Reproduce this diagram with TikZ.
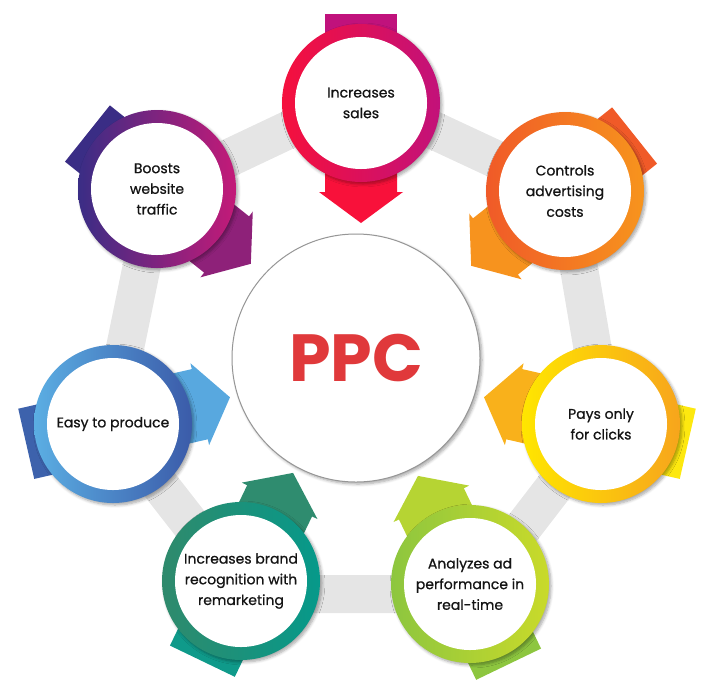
\documentclass[tikz,border=0pt]{standalone}
\usepackage{fontspec}
\setmainfont{Poppins}
\newfontfamily\labelfont{Poppins}[FakeBold=0.8]
\usetikzlibrary{shadows.blur}

\definecolor{bandgray}{RGB}{229,229,229}
\definecolor{textdark}{RGB}{20,20,20}
\definecolor{ppcred}{RGB}{224,57,59}
\definecolor{salesL}{RGB}{245,16,61}   \definecolor{salesR}{RGB}{194,17,122}
\definecolor{salesT}{RGB}{192,18,124}  \definecolor{salesH}{RGB}{248,17,58}
\definecolor{costsL}{RGB}{240,90,40}   \definecolor{costsR}{RGB}{247,148,29}
\definecolor{costsT}{RGB}{240,90,40}   \definecolor{costsH}{RGB}{247,147,30}
\definecolor{clicksL}{RGB}{255,230,0}  \definecolor{clicksR}{RGB}{247,165,28}
\definecolor{clicksT}{RGB}{253,232,15} \definecolor{clicksH}{RGB}{249,177,27}
\definecolor{realL}{RGB}{141,198,63}   \definecolor{realR}{RGB}{201,218,42}
\definecolor{realT}{RGB}{141,198,63}   \definecolor{realH}{RGB}{182,212,51}
\definecolor{brandL}{RGB}{47,138,108}  \definecolor{brandR}{RGB}{6,153,138}
\definecolor{brandT}{RGB}{15,154,138}  \definecolor{brandH}{RGB}{47,140,111}
\definecolor{prodL}{RGB}{91,174,227}   \definecolor{prodR}{RGB}{59,91,169}
\definecolor{prodT}{RGB}{61,98,172}    \definecolor{prodH}{RGB}{88,168,223}
\definecolor{trafL}{RGB}{58,45,133}    \definecolor{trafR}{RGB}{196,26,120}
\definecolor{trafT}{RGB}{58,45,133}    \definecolor{trafH}{RGB}{142,33,121}

\tikzset{every picture/.style={line width=0.75pt}}
\tikzset{
  band/.style={draw=bandgray, line width=28.5pt},
  softshadow/.style={blur shadow={shadow xshift=1.5pt, shadow yshift=-1.5pt, shadow blur steps=6, shadow opacity=35}},
  ring/.style={circle, inner sep=0pt, minimum size=118.5pt, align=center, text=textdark,
    font=\labelfont\fontsize{10.5}{15.5}\selectfont, softshadow,
    path picture={\fill[white] (path picture bounding box.center) circle [radius=49.5pt];}},
}

\begin{document}
\begin{tikzpicture}[x=0.75pt,y=0.75pt,yscale=-1,xscale=1]
	\useasboundingbox (0,0) rectangle (727,697);

	%Shape: Heptagon band
	\coordinate (v1) at (360,96);
	\coordinate (v2) at (566,192);
	\coordinate (v3) at (605,421);
	\coordinate (v4) at (472,594);
	\coordinate (v5) at (245,594);
	\coordinate (v6) at (110,421);
	\coordinate (v7) at (157,192);
	\draw [band] (v1) -- (v2) -- (v3) -- (v4) -- (v5) -- (v6) -- (v7) -- cycle ;

	%Shape: Arrow [sales]
	\fill [color=salesT, shift={(361,103)}, rotate=90] (-89,-36) -- (0,-36) -- (0,36) -- (-89,36) -- cycle ;
	\fill [color=salesH, shift={(361,103)}, rotate=90] (0,-36) -- (89,-36) -- (89,-42) -- (120,0) -- (89,42) -- (89,36) -- (0,36) -- cycle ;
	%Shape: Arrow [costs]
	\fill [color=costsT, shift={(565,191)}, rotate=141.43] (-89,-36) -- (0,-36) -- (0,36) -- (-89,36) -- cycle ;
	\fill [color=costsH, shift={(565,191)}, rotate=141.43] (0,-36) -- (89,-36) -- (89,-42) -- (120,0) -- (89,42) -- (89,36) -- (0,36) -- cycle ;
	%Shape: Arrow [clicks]
	\fill [color=clicksT, shift={(601,424)}, rotate=192.86] (-89,-36) -- (0,-36) -- (0,36) -- (-89,36) -- cycle ;
	\fill [color=clicksH, shift={(601,424)}, rotate=192.86] (0,-36) -- (89,-36) -- (89,-42) -- (120,0) -- (89,42) -- (89,36) -- (0,36) -- cycle ;
	%Shape: Arrow [realtime]
	\fill [color=realT, shift={(470,584)}, rotate=244.29] (-89,-36) -- (0,-36) -- (0,36) -- (-89,36) -- cycle ;
	\fill [color=realH, shift={(470,584)}, rotate=244.29] (0,-36) -- (89,-36) -- (89,-42) -- (120,0) -- (89,42) -- (89,36) -- (0,36) -- cycle ;
	%Shape: Arrow [brand]
	\fill [color=brandT, shift={(241,581)}, rotate=295.71] (-89,-36) -- (0,-36) -- (0,36) -- (-89,36) -- cycle ;
	\fill [color=brandH, shift={(241,581)}, rotate=295.71] (0,-36) -- (89,-36) -- (89,-42) -- (120,0) -- (89,42) -- (89,36) -- (0,36) -- cycle ;
	%Shape: Arrow [produce]
	\fill [color=prodT, shift={(113,424)}, rotate=347.14] (-89,-36) -- (0,-36) -- (0,36) -- (-89,36) -- cycle ;
	\fill [color=prodH, shift={(113,424)}, rotate=347.14] (0,-36) -- (89,-36) -- (89,-42) -- (120,0) -- (89,42) -- (89,36) -- (0,36) -- cycle ;
	%Shape: Arrow [traffic]
	\fill [color=trafT, shift={(157,189)}, rotate=38.57] (-89,-36) -- (0,-36) -- (0,36) -- (-89,36) -- cycle ;
	\fill [color=trafH, shift={(157,189)}, rotate=38.57] (0,-36) -- (89,-36) -- (89,-42) -- (120,0) -- (89,42) -- (89,36) -- (0,36) -- cycle ;

	% Text Node
	\node [ring, left color=salesL, right color=salesR] (sales) at (361,103) {Increases\\sales};
	% Text Node
	\node [ring, left color=costsL, right color=costsR] (costs) at (565,191) {Controls\\advertising\\costs};
	% Text Node
	\node [ring, left color=clicksL, right color=clicksR] (clicks) at (601,424) {Pays only\\for clicks};
	% Text Node
	\node [ring, left color=realL, right color=realR] (realtime) at (470,584) {Analyzes ad\\performance in\\real-time};
	% Text Node
	\node [ring, left color=brandL, right color=brandR] (brand) at (241,581) {Increases brand\\recognition with\\remarketing};
	% Text Node
	\node [ring, left color=prodL, right color=prodR] (produce) at (113,424) {\raisebox{-1.5pt}{Easy to produce}};
	% Text Node
	\node [ring, left color=trafL, right color=trafR] (traffic) at (157,189) {Boosts\\website\\traffic};

	% Text Node
	\node [circle, inner sep=0pt, minimum size=186pt, draw={rgb, 255:red, 150; green, 150; blue, 150}, fill=white, softshadow, text=ppcred, font=\fontsize{50}{60}\selectfont\bfseries] (ppc) at (356,358) {\raisebox{-3.5pt}{PPC}};

\end{tikzpicture}
\end{document}
